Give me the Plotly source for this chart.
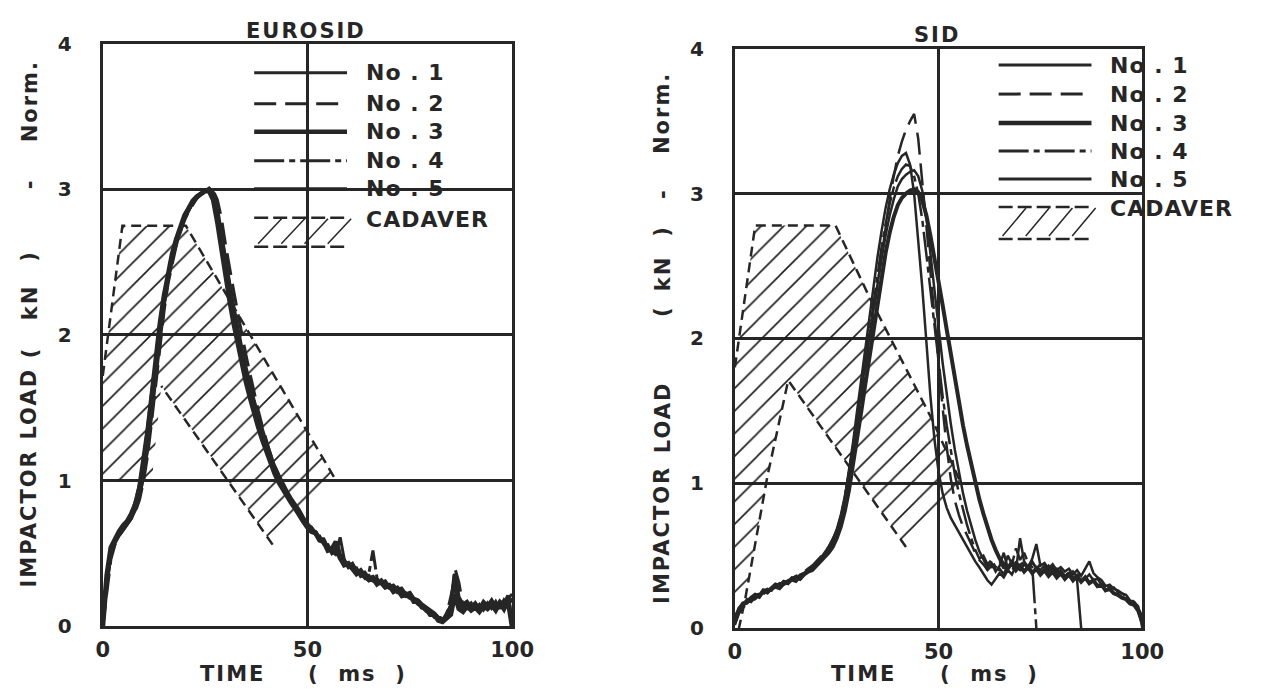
import plotly.graph_objects as go

W, H = 1261, 698

# ---------------- data ----------------
time_ms = list(range(0, 101))

euro_no1 = [0.00,0.30,0.50,0.58,0.63,0.67,0.71,0.75,0.81,0.90,
            1.05,1.25,1.50,1.76,2.02,2.22,2.40,2.53,2.64,2.73,
            2.80,2.86,2.91,2.94,2.97,2.99,3.00,2.96,2.82,2.62,
            2.44,2.28,2.12,1.97,1.83,1.71,1.60,1.49,1.40,1.31,
            1.22,1.14,1.06,1.00,0.95,0.90,0.86,0.82,0.77,0.73,
            0.69,0.67,0.63,0.61,0.57,0.55,0.50,0.52,0.46,0.44,
            0.41,0.43,0.38,0.36,0.37,0.33,0.34,0.31,0.30,0.31,
            0.27,0.28,0.25,0.26,0.22,0.23,0.19,0.18,0.15,0.13,
            0.11,0.09,0.06,0.05,0.06,0.12,0.36,0.20,0.15,0.17,
            0.13,0.16,0.12,0.17,0.14,0.18,0.13,0.17,0.15,0.21,0.02]
euro_no2 = [0.00,0.25,0.46,0.56,0.62,0.66,0.70,0.74,0.79,0.87,
            1.00,1.18,1.42,1.68,1.95,2.17,2.36,2.50,2.62,2.71,
            2.79,2.85,2.90,2.94,2.97,2.99,3.00,2.99,2.93,2.80,
            2.62,2.45,2.30,2.15,2.00,1.86,1.73,1.60,1.48,1.37,
            1.27,1.18,1.10,1.03,0.97,0.92,0.88,0.83,0.79,0.74,
            0.71,0.66,0.65,0.60,0.59,0.53,0.54,0.49,0.48,0.43,
            0.42,0.39,0.40,0.35,0.34,0.35,0.31,0.32,0.28,0.29,
            0.26,0.25,0.24,0.22,0.23,0.20,0.18,0.16,0.14,0.12,
            0.10,0.07,0.05,0.04,0.07,0.15,0.40,0.30,0.14,0.12,
            0.15,0.11,0.14,0.12,0.16,0.12,0.15,0.13,0.18,0.14,0.20]
euro_no3 = [0.00,0.35,0.54,0.60,0.65,0.69,0.72,0.77,0.84,0.95,
            1.12,1.34,1.58,1.84,2.08,2.27,2.43,2.56,2.66,2.75,
            2.82,2.87,2.92,2.95,2.97,2.99,2.99,2.93,2.78,2.58,
            2.40,2.24,2.08,1.94,1.80,1.68,1.57,1.46,1.37,1.28,
            1.20,1.12,1.05,0.99,0.94,0.89,0.85,0.81,0.76,0.72,
            0.68,0.65,0.64,0.59,0.58,0.52,0.53,0.58,0.47,0.42,
            0.43,0.40,0.36,0.38,0.34,0.32,0.33,0.29,0.31,0.27,
            0.28,0.24,0.26,0.23,0.21,0.22,0.17,0.17,0.13,0.12,
            0.08,0.08,0.04,0.03,0.05,0.08,0.22,0.12,0.10,0.14,
            0.11,0.13,0.10,0.14,0.12,0.15,0.11,0.16,0.12,0.18,0.00]
euro_no4 = [0.00,0.32,0.52,0.59,0.64,0.68,0.72,0.78,0.86,0.98,
            1.15,1.38,1.62,1.88,2.10,2.28,2.44,2.57,2.67,2.75,
            2.82,2.88,2.92,2.95,2.97,2.99,3.00,2.97,2.86,2.68,
            2.50,2.33,2.17,2.02,1.88,1.75,1.63,1.52,1.42,1.33,
            1.24,1.16,1.08,1.02,0.96,0.91,0.87,0.83,0.78,0.74,
            0.70,0.66,0.62,0.62,0.56,0.56,0.51,0.49,0.50,0.45,
            0.40,0.41,0.37,0.37,0.33,0.36,0.52,0.33,0.29,0.28,
            0.26,0.27,0.23,0.24,0.20,0.21,0.18,0.15,0.14,0.11,
            0.10,0.08,0.06,0.06,0.08,0.20,0.33,0.18,0.13,0.16,
            0.12,0.15,0.13,0.16,0.13,0.17,0.14,0.16,0.14,0.19,0.22]
euro_no5 = [0.00,0.28,0.48,0.57,0.62,0.66,0.70,0.74,0.80,0.89,
            1.03,1.22,1.46,1.72,1.98,2.20,2.38,2.52,2.63,2.72,
            2.80,2.86,2.91,2.95,2.97,2.99,3.01,2.98,2.88,2.70,
            2.52,2.36,2.20,2.05,1.91,1.78,1.66,1.55,1.45,1.35,
            1.26,1.18,1.10,1.04,0.98,0.93,0.88,0.84,0.80,0.75,
            0.70,0.68,0.64,0.60,0.60,0.54,0.52,0.50,0.61,0.46,
            0.41,0.40,0.39,0.34,0.35,0.31,0.32,0.30,0.29,0.26,
            0.27,0.23,0.24,0.20,0.21,0.19,0.18,0.15,0.13,0.10,
            0.09,0.06,0.05,0.04,0.09,0.14,0.28,0.16,0.12,0.13,
            0.16,0.12,0.15,0.11,0.15,0.13,0.17,0.12,0.17,0.15,0.18]

sid_no1 = [0.04,0.12,0.15,0.19,0.18,0.22,0.21,0.25,0.24,0.27,
           0.28,0.27,0.30,0.31,0.33,0.32,0.35,0.37,0.39,0.41,
           0.44,0.47,0.50,0.54,0.59,0.66,0.76,0.90,1.08,1.28,
           1.50,1.72,1.94,2.15,2.36,2.56,2.74,2.90,3.03,3.13,
           3.21,3.26,3.28,3.20,3.00,2.70,2.35,1.98,1.60,1.30,
           1.08,0.93,0.83,0.76,0.71,0.66,0.60,0.55,0.50,0.46,
           0.42,0.37,0.33,0.30,0.34,0.38,0.35,0.40,0.37,0.43,
           0.40,0.44,0.41,0.45,0.42,0.40,0.43,0.39,0.42,0.38,
           0.40,0.36,0.38,0.35,0.33,0.00,None,None,None,None,
           None,None,None,None,None,None,None,None,None,None,None]
sid_no2 = [0.02,0.10,0.14,0.17,0.19,0.20,0.23,0.24,0.26,0.27,
           0.29,0.30,0.31,0.33,0.34,0.36,0.37,0.39,0.41,0.43,
           0.46,0.49,0.52,0.56,0.61,0.67,0.76,0.88,1.03,1.20,
           1.39,1.58,1.78,1.98,2.18,2.38,2.58,2.78,2.96,3.12,
           3.26,3.36,3.44,3.50,3.55,3.38,3.10,2.78,2.46,2.14,
           1.82,1.52,1.25,1.03,0.88,0.78,0.70,0.64,0.57,0.52,
           0.47,0.44,0.40,0.43,0.38,0.41,0.37,0.44,0.39,0.46,
           0.42,0.47,0.43,0.46,0.41,0.44,0.40,0.43,0.39,0.41,
           0.37,0.40,0.36,0.39,0.35,0.38,0.34,0.37,0.33,0.34,
           0.30,0.31,0.27,0.28,0.25,0.24,0.22,0.20,0.18,0.14,0.08]
sid_no3 = [0.05,0.13,0.17,0.18,0.21,0.23,0.22,0.26,0.25,0.28,
           0.30,0.29,0.32,0.31,0.34,0.35,0.34,0.37,0.39,0.40,
           0.43,0.45,0.48,0.52,0.56,0.62,0.70,0.81,0.95,1.12,
           1.30,1.49,1.68,1.87,2.06,2.25,2.43,2.59,2.73,2.84,
           2.92,2.97,3.00,3.02,3.03,3.01,2.95,2.85,2.71,2.56,
           2.40,2.23,2.06,1.89,1.72,1.56,1.40,1.26,1.13,1.01,
           0.89,0.79,0.69,0.61,0.54,0.48,0.44,0.41,0.45,0.40,
           0.43,0.39,0.42,0.38,0.41,0.37,0.40,0.36,0.39,0.35,
           0.38,0.34,0.37,0.33,0.36,0.32,0.35,0.31,0.33,0.29,
           0.30,0.26,0.27,0.24,0.23,0.21,0.20,0.17,0.16,0.12,0.04]
sid_no4 = [0.03,0.11,0.16,0.17,0.20,0.21,0.24,0.23,0.27,0.26,
           0.29,0.31,0.30,0.33,0.33,0.36,0.36,0.38,0.40,0.42,
           0.45,0.48,0.51,0.55,0.60,0.67,0.77,0.90,1.06,1.24,
           1.44,1.64,1.85,2.05,2.25,2.45,2.63,2.79,2.93,3.04,
           3.12,3.17,3.20,3.19,3.12,3.00,2.82,2.58,2.33,2.08,
           1.83,1.60,1.40,1.22,1.06,0.93,0.81,0.71,0.62,0.54,
           0.48,0.50,0.44,0.47,0.42,0.46,0.41,0.50,0.44,0.55,
           0.47,0.52,0.45,0.42,0.00,None,None,None,None,None,
           None,None,None,None,None,None,None,None,None,None,
           None,None,None,None,None,None,None,None,None,None,None]
sid_no5 = [0.06,0.14,0.16,0.20,0.19,0.23,0.23,0.26,0.27,0.26,
           0.30,0.30,0.32,0.32,0.35,0.34,0.37,0.38,0.41,0.43,
           0.45,0.48,0.52,0.56,0.61,0.68,0.78,0.91,1.07,1.25,
           1.44,1.63,1.82,2.01,2.20,2.38,2.55,2.71,2.85,2.96,
           3.05,3.10,3.13,3.15,3.16,3.12,3.02,2.84,2.60,2.34,
           2.08,1.83,1.61,1.41,1.23,1.07,0.93,0.81,0.70,0.61,
           0.53,0.47,0.42,0.45,0.39,0.43,0.52,0.41,0.47,0.40,
           0.62,0.46,0.42,0.48,0.58,0.43,0.45,0.41,0.44,0.40,
           0.42,0.39,0.41,0.37,0.40,0.36,0.41,0.46,0.38,0.35,
           0.33,0.29,0.30,0.27,0.26,0.24,0.23,0.19,0.18,0.15,0.00]

# cadaver corridors (time ms, load)
euro_cad_upper_t = [0.0, 4.8, 20.3, 57.0]
euro_cad_upper_y = [1.72, 2.75, 2.75, 1.00]
euro_cad_lower_t = [41.5, 14.3]
euro_cad_lower_y = [0.56, 1.65]
euro_cad_base_t = [12.0, 0.0]
euro_cad_base_y = [1.00, 1.00]

sid_cad_upper_t = [0.0, 5.0, 24.7, 33.1, 48.4, 55.5]
sid_cad_upper_y = [1.80, 2.78, 2.78, 2.28, 1.44, 1.00]
sid_cad_lower_t = [42.0, 13.1, 8.0, 2.4, 1.0]
sid_cad_lower_y = [0.56, 1.71, 1.05, 0.18, 0.00]
sid_cad_base_t = [0.0]
sid_cad_base_y = [0.00]

series_names = ["No.1", "No.2", "No.3", "No.4", "No.5"]
x_ticks = [0, 50, 100]
y_ticks = [0, 1, 2, 3, 4]
panel_titles = ["EUROSID", "SID"]

# ---------------- styling ----------------
INK = "#262626"
FONT = "DejaVu Sans"
dashes = ["solid", "22px,9px", "solid", "30px,5px,6px,5px", "solid"]
euro_widths = [3.5, 3.0, 5.0, 3.0, 3.0]
sid_widths = [2.5, 2.5, 4.0, 2.5, 2.5]
legend_widths = [3.0, 3.0, 4.5, 3.0, 3.0]


def px(x):
    return x / W


def py(y):
    return 1 - y / H


fig = go.Figure()

panels = [
    dict(xa="x", ya="y", series=[euro_no1, euro_no2, euro_no3, euro_no4, euro_no5],
         widths=euro_widths,
         up_t=euro_cad_upper_t, up_y=euro_cad_upper_y,
         lo_t=euro_cad_lower_t, lo_y=euro_cad_lower_y,
         base_t=euro_cad_base_t, base_y=euro_cad_base_y),
    dict(xa="x2", ya="y2", series=[sid_no1, sid_no2, sid_no3, sid_no4, sid_no5],
         widths=sid_widths,
         up_t=sid_cad_upper_t, up_y=sid_cad_upper_y,
         lo_t=sid_cad_lower_t, lo_y=sid_cad_lower_y,
         base_t=sid_cad_base_t, base_y=sid_cad_base_y),
]

for p in panels:
    poly_t = p["up_t"] + p["lo_t"] + p["base_t"]
    poly_y = p["up_y"] + p["lo_y"] + p["base_y"]
    fig.add_trace(go.Scatter(
        x=poly_t, y=poly_y, xaxis=p["xa"], yaxis=p["ya"], mode="lines",
        line=dict(width=0, color="rgba(0,0,0,0)"), fill="toself",
        fillcolor="rgba(255,255,255,0)",
        fillpattern=dict(shape="/", size=16, solidity=0.1, fgcolor="#1a1a1a",
                         fgopacity=1, fillmode="overlay"),
        showlegend=False, hoverinfo="skip"))
    fig.add_trace(go.Scatter(
        x=p["up_t"], y=p["up_y"], xaxis=p["xa"], yaxis=p["ya"], mode="lines",
        line=dict(width=2.5, color=INK, dash="10px,6px"), showlegend=False))
    fig.add_trace(go.Scatter(
        x=p["lo_t"], y=p["lo_y"], xaxis=p["xa"], yaxis=p["ya"], mode="lines",
        line=dict(width=2.5, color=INK, dash="10px,6px"), showlegend=False))
    for name, vals, dash, wd in zip(series_names, p["series"], dashes, p["widths"]):
        fig.add_trace(go.Scatter(
            x=time_ms, y=vals, xaxis=p["xa"], yaxis=p["ya"], mode="lines", name=name,
            line=dict(width=wd, color=INK, dash=dash),
            connectgaps=False, showlegend=False))

axis_common = dict(showgrid=True, gridcolor=INK, gridwidth=2.5, showline=True,
                   mirror=True, linecolor=INK, linewidth=3, ticks="",
                   zeroline=False, fixedrange=True)
xfont = dict(family=FONT, size=21, color=INK, weight="bold")
yfont = dict(family=FONT, size=20, color=INK, weight="bold")

fig.update_layout(
    width=W, height=H, margin=dict(l=0, r=0, t=0, b=0),
    paper_bgcolor="white", plot_bgcolor="white", showlegend=False,
    xaxis=dict(domain=[px(98), px(517)], range=[0, 100], tickvals=x_ticks,
               tickfont=xfont, ticklabelstandoff=3, anchor="y", **axis_common),
    yaxis=dict(domain=[py(636), py(33)], range=[0, 4], tickvals=y_ticks,
               tickfont=yfont, ticklabelstandoff=24, anchor="x", **axis_common),
    xaxis2=dict(domain=[px(745), px(1162)], range=[0, 100], tickvals=x_ticks,
                tickfont=xfont, ticklabelstandoff=3, anchor="y2", **axis_common),
    yaxis2=dict(domain=[py(638), py(38)], range=[0, 4], tickvals=y_ticks,
                tickfont=yfont, ticklabelstandoff=24, anchor="x2", **axis_common),
)

annotations = []
shapes = []


def text(x, y, s, size=21, angle=0, xanchor="center", spacing=2):
    annotations.append(dict(
        x=px(x), y=py(y), xref="paper", yref="paper",
        text='<span style="letter-spacing:%dpx">%s</span>' % (spacing, s),
        showarrow=False, textangle=angle, xanchor=xanchor, yanchor="middle",
        font=dict(family=FONT, size=size, color=INK, weight="bold")))


# panel titles
text(306, 20, panel_titles[0])
text(952, 24, panel_titles[1])

# x-axis titles
text(231, 686, "TIME")
text(359, 686, "(\u00a0\u00a0ms\u00a0\u00a0)")
text(877, 686, "TIME")
text(1006, 686, "(\u00a0\u00a0ms\u00a0\u00a0)")

# y-axis titles (rotated tokens)
ytok_left = [("IMPACTOR", 524), ("LOAD", 405), ("(", 352), ("kN", 300),
             (")", 252), ("-", 178), ("Norm.", 92)]
ytok_right = [("IMPACTOR", 542), ("LOAD", 420), ("(", 310), ("kN", 271),
              (")", 227), ("-", 188), ("Norm.", 105)]
for tok, yy in ytok_left:
    text(23, yy, tok, angle=-90)
for tok, yy in ytok_right:
    text(671, yy, tok, angle=-90)


# legends
def legend(x0, x1, xt, rows, cad_top, cad_bot):
    for name, dash, wd, yy in zip(series_names, dashes, legend_widths, rows):
        shapes.append(dict(type="line", xref="paper", yref="paper",
                           x0=px(x0), x1=px(x1), y0=py(yy), y1=py(yy),
                           line=dict(color=INK, width=wd, dash=dash)))
        text(xt, yy, name.replace(".", "\u00a0.\u00a0"), size=22, xanchor="left", spacing=1)
    for yy in (cad_top, cad_bot):
        shapes.append(dict(type="line", xref="paper", yref="paper",
                           x0=px(x0), x1=px(x1), y0=py(yy), y1=py(yy),
                           line=dict(color=INK, width=2.5, dash="14px,5px")))
    step = (x1 - x0) / 4.0
    for i in range(4):
        bx = x0 + 4 + i * step
        shapes.append(dict(type="line", xref="paper", yref="paper",
                           x0=px(bx), x1=px(bx + 24), y0=py(cad_bot - 3),
                           y1=py(cad_top + 1), line=dict(color=INK, width=1.5)))
    text(xt, cad_top + 2, "CADAVER", size=22, xanchor="left", spacing=1)


legend(253, 348, 365, [63, 95, 124, 154, 183], 213, 243)
legend(1015, 1110, 1127, [55, 85, 115, 144, 173], 202, 235)

fig.update_layout(annotations=annotations, shapes=shapes)
fig.write_html("out.html")
